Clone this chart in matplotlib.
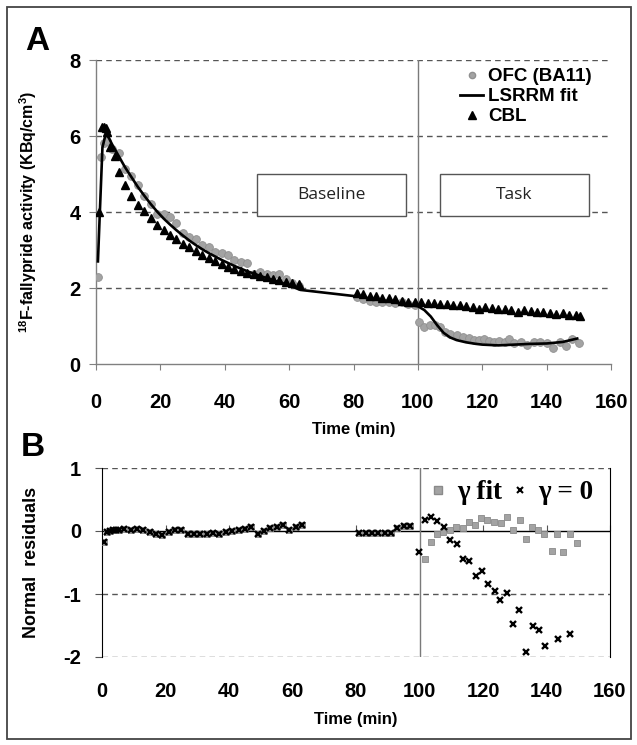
import matplotlib
matplotlib.use("Agg")
import matplotlib.pyplot as plt
from matplotlib.lines import Line2D
from matplotlib.patches import Rectangle

plt.rcParams['font.family'] = ['Liberation Sans', 'DejaVu Sans']
plt.rcParams['mathtext.fontset'] = 'custom'
plt.rcParams['mathtext.rm'] = 'Liberation Sans:bold'
plt.rcParams['mathtext.bf'] = 'Liberation Sans:bold'
plt.rcParams['mathtext.default'] = 'bf'
plt.rcParams['axes.unicode_minus'] = False

# ---------------- Panel A data ----------------
ofc_t = [0.5, 1.5, 2.5, 3.5, 5, 7, 9, 11, 13, 15, 17, 19, 21, 23, 25, 27, 29, 31, 33, 35,
         37, 39, 41, 43, 45, 47, 49, 51, 53, 55, 57, 59, 61, 63,
         81, 83, 85, 87, 89, 91, 93, 95, 97, 99,
         100.5, 102, 103.7, 105.3, 107, 108.5, 110, 112, 114, 116, 117.5, 119, 120.5, 122,
         123.7, 125.3, 127, 128.3, 130, 132, 134, 136, 138, 140, 142, 144, 146, 148, 150]
ofc_v = [2.3, 5.45, 5.82, 5.88, 5.67, 5.56, 5.13, 4.95, 4.72, 4.42, 4.21, 3.96, 3.95, 3.88,
         3.72, 3.45, 3.34, 3.28, 3.13, 3.09, 2.96, 2.92, 2.86, 2.74, 2.68, 2.65, 2.38, 2.42,
         2.38, 2.34, 2.36, 2.25, 2.12, 2.05,
         1.77, 1.70, 1.66, 1.64, 1.62, 1.63, 1.60, 1.62, 1.58, 1.56,
         1.11, 0.97, 1.03, 1.03, 0.97, 0.85, 0.79, 0.76, 0.70, 0.68, 0.63, 0.63, 0.65, 0.61,
         0.59, 0.61, 0.59, 0.65, 0.54, 0.59, 0.50, 0.59, 0.59, 0.54, 0.42, 0.57, 0.47, 0.65, 0.54]

cbl_t = [0.8, 2.0, 2.5, 3.0, 3.5, 4.5, 6, 7, 9, 11, 13, 15, 17, 19, 21, 23, 25, 27, 29, 31,
         33, 35, 37, 39, 41, 43, 45, 47, 49, 51, 53, 55, 57, 59, 61, 63,
         81, 83, 85, 87, 89, 91, 93, 95, 97, 99, 101, 103, 105, 107, 109, 111, 113, 115,
         117, 119, 121, 123, 125, 127, 129, 131, 133, 135, 137, 139, 141, 143, 145, 147, 149, 150.5]
cbl_v = [4.0, 6.25, 6.25, 6.2, 6.1, 5.72, 5.48, 5.05, 4.72, 4.42, 4.18, 4.03, 3.85, 3.65,
         3.52, 3.40, 3.28, 3.16, 3.07, 2.98, 2.88, 2.80, 2.70, 2.62, 2.54, 2.50, 2.45, 2.40,
         2.36, 2.31, 2.30, 2.24, 2.20, 2.16, 2.13, 2.11,
         1.86, 1.83, 1.80, 1.78, 1.75, 1.73, 1.70, 1.67, 1.64, 1.62,
         1.62, 1.60, 1.60, 1.58, 1.57, 1.56, 1.54, 1.52, 1.50, 1.45, 1.49, 1.48, 1.46, 1.45,
         1.43, 1.38, 1.42, 1.40, 1.37, 1.36, 1.35, 1.32, 1.33, 1.30, 1.28, 1.26]

fit_t = [0.6, 1.2, 2.0, 3.0, 4, 5, 7, 9, 11, 13, 15, 17, 19, 21, 23, 25, 27, 29, 31, 33, 35,
         37, 39, 41, 43, 45, 47, 49, 51, 53, 55, 57, 59, 61, 63.5, 81, 100, 102, 104, 106,
         108, 110, 112, 115, 118, 120, 125, 130, 135, 140, 145, 149.5]
fit_v = [2.7, 4.0, 5.7, 6.05, 5.95, 5.78, 5.48, 5.18, 4.92, 4.66, 4.43, 4.21, 4.01, 3.83,
         3.67, 3.52, 3.38, 3.25, 3.13, 3.02, 2.92, 2.83, 2.74, 2.66, 2.58, 2.51, 2.44, 2.38,
         2.32, 2.26, 2.21, 2.15, 2.10, 2.04, 1.95, 1.78, 1.52, 1.42, 1.25, 1.02,
         0.82, 0.70, 0.63, 0.57, 0.53, 0.51, 0.49, 0.51, 0.53, 0.54, 0.58, 0.67]

# ---------------- Panel B data ----------------
res_base_t = [0.5, 1.5, 2.5, 3.5, 4.5, 5.5, 7, 9, 11, 13, 15, 17, 19, 21, 23, 25, 27, 29, 31,
              33, 35, 37, 39, 41, 43, 45, 47, 49, 51, 53, 55, 57, 59, 61, 63,
              81, 83, 85, 87, 89, 91, 93, 95, 97]
res_base_v = [-0.17, -0.02, 0.0, 0.01, 0.02, 0.01, 0.03, 0.02, 0.03, 0.02, -0.02, -0.05,
              -0.07, -0.02, 0.02, 0.02, -0.04, -0.05, -0.04, -0.05, -0.03, -0.05, -0.01,
              0.0, 0.01, 0.03, 0.06, -0.05, 0.0, 0.04, 0.06, 0.09, 0.02, 0.07, 0.09,
              -0.03, -0.03, -0.03, -0.03, -0.03, -0.03, 0.04, 0.08, 0.08]

gfit_t = [101.7, 103.6, 105.6, 107.5, 109.6, 111.5, 113.6, 115.6, 117.6, 119.4, 121.4,
          123.5, 125.6, 127.5, 129.6, 131.5, 133.4, 135.5, 137.4, 139.2, 141.6, 143.4,
          145.3, 147.4, 149.7]
gfit_v = [-0.45, -0.17, -0.04, -0.02, 0.01, 0.07, 0.04, 0.14, 0.09, 0.21, 0.17, 0.15,
          0.12, 0.22, 0.02, 0.17, -0.12, 0.07, 0.02, -0.05, -0.31, -0.05, -0.34, -0.05, -0.19]

g0_t = [99.8, 101.7, 103.6, 105.6, 107.7, 109.6, 111.7, 113.6, 115.6, 117.8, 119.6, 121.7,
        123.8, 125.4, 127.7, 129.5, 131.3, 133.4, 135.7, 137.7, 139.6, 143.6, 147.5]
g0_v = [-0.33, 0.18, 0.22, 0.16, 0.06, -0.14, -0.21, -0.44, -0.47, -0.72, -0.63, -0.84,
        -0.96, -1.10, -0.99, -1.48, -1.25, -1.92, -1.51, -1.57, -1.83, -1.72, -1.63]

xticks = [0, 20, 40, 60, 80, 100, 120, 140, 160]
a_yticks = [0, 2, 4, 6, 8]
b_yticks = [-2, -1, 0, 1]

W, H = 637, 745
fig = plt.figure(figsize=(W / 100, H / 100), dpi=100)

def fx(px):
    return px / W

def fy(py):
    return 1 - py / H

grid_kw = dict(color='#555555', lw=1.0, ls=(0, (4, 3)), zorder=1)
grey = '#a3a3a3'

# ---------------- Panel A ----------------
axA = fig.add_axes([fx(96), fy(364), fx(611) - fx(96), fy(60) - fy(364)])
axA.set_xlim(0, 160)
axA.set_ylim(0, 8)
for yv in a_yticks[1:]:
    axA.axhline(yv, **grid_kw)
axA.axvline(100, color='#7a7a7a', lw=1.0, zorder=1.5)

axA.plot(ofc_t, ofc_v, ls='none', marker='o', ms=5.6, mfc=grey, mec='#909090',
         mew=0.6, zorder=3)
axA.plot(fit_t, fit_v, color='black', lw=1.9, zorder=4)
axA.plot(cbl_t, cbl_v, ls='none', marker='^', ms=6.3, color='black', zorder=5)

for s in ['top', 'right']:
    axA.spines[s].set_visible(False)
for s in ['left', 'bottom']:
    axA.spines[s].set_color('#808080')
    axA.spines[s].set_linewidth(1.0)
axA.set_xticks(xticks)
axA.set_yticks(a_yticks)
axA.tick_params(axis='x', length=4, color='#808080', pad=17, labelsize=14.5)
axA.tick_params(axis='y', length=5, color='#808080', pad=6, labelsize=14.5)
for lab in axA.get_xticklabels() + axA.get_yticklabels():
    lab.set_fontweight('bold')

# Baseline / Task boxes
for (x0, x1, txt) in [(49.9, 96.4, 'Baseline'), (106.8, 153.3, 'Task')]:
    axA.add_patch(Rectangle((x0, 3.89), x1 - x0, 1.10, facecolor='white',
                            edgecolor='#555555', lw=1.0, zorder=6))
    axA.text((x0 + x1) / 2, 4.44, txt, ha='center', va='center', fontsize=12.5,
             family=['Open Sans', 'DejaVu Sans'], color='#222222', zorder=7)

handlesA = [Line2D([], [], ls='none', marker='o', ms=4.5, mfc=grey, mec='#909090'),
            Line2D([], [], color='black', lw=2),
            Line2D([], [], ls='none', marker='^', ms=5.5, color='black')]
legA = axA.legend(handlesA, ['OFC (BA11)', 'LSRRM fit', 'CBL'], loc='upper right',
                  bbox_to_anchor=(0.985, 1.01), frameon=False, handlelength=1.2,
                  handletextpad=0.3, labelspacing=0.15, borderpad=0.1,
                  prop=dict(weight='bold', size=13.5))
legA.set_zorder(8)

axA.set_xlabel('Time (min)', fontsize=12, fontweight='bold', labelpad=7)

fig.text(fx(28), fy(212), r'$^{18}$F-fallypride activity (KBq/cm$^{3}$)', rotation=90,
         ha='center', va='center', fontsize=11.5, fontweight='bold')
fig.text(fx(37), fy(42), 'A', fontsize=24, fontweight='bold', ha='center', va='center')

# ---------------- Panel B ----------------
axB = fig.add_axes([fx(102), fy(657), fx(610) - fx(102), fy(468) - fy(657)])
axB.set_xlim(0, 160)
axB.set_ylim(-2, 1)
for yv in [-2, -1, 1]:
    axB.axhline(yv, **grid_kw)
axB.axhline(0, color='black', lw=1.0, zorder=1.5)
axB.axvline(100, color='#7a7a7a', lw=1.0, zorder=1.5)

axB.plot(res_base_t, res_base_v, ls='none', marker='s', ms=4.8, mfc=grey, mec='#8a8a8a',
         mew=0.6, zorder=3)
axB.plot(gfit_t, gfit_v, ls='none', marker='s', ms=5.0, mfc=grey, mec='#8a8a8a',
         mew=0.6, zorder=3)
axB.plot(res_base_t, res_base_v, ls='none', marker='x', ms=4.6, mew=1.7, color='black',
         zorder=4)
axB.plot(g0_t, g0_v, ls='none', marker='x', ms=4.8, mew=1.7, color='black', zorder=4)

axB.spines['top'].set_visible(False)
axB.spines['bottom'].set_visible(False)
axB.spines['left'].set_color('black')
axB.spines['right'].set_color('black')
axB.set_xticks(xticks)
axB.set_yticks(b_yticks)
axB.tick_params(axis='x', length=0, pad=18, labelsize=14.5)
axB.tick_params(axis='y', length=5, color='#555555', pad=10, labelsize=14.5)
for lab in axB.get_xticklabels() + axB.get_yticklabels():
    lab.set_fontweight('bold')
sec = axB.secondary_xaxis(2 / 3)
sec.set_xticks(xticks)
sec.tick_params(axis='x', direction='out', length=4, color='#555555', labelbottom=False,
                labeltop=False)
sec.spines['bottom'].set_visible(False)
sec.spines['top'].set_visible(False)

handlesB = [Line2D([], [], ls='none', marker='s', ms=5.5, mfc=grey, mec='#8a8a8a'),
            Line2D([], [], ls='none', marker='x', ms=4, mew=1.5, color='black')]
legB = axB.legend(handlesB, ['γ fit', 'γ = 0'], loc='upper right',
                  bbox_to_anchor=(1.0, 1.02), frameon=False, ncol=2, handlelength=0.5,
                  handletextpad=0.45, columnspacing=0.4, borderpad=0.1,
                  prop=dict(family=['Liberation Serif', 'DejaVu Serif'], weight='bold',
                            size=19.5))
legB.set_zorder(8)

axB.set_xlabel('Time (min)', fontsize=12, fontweight='bold', labelpad=8)
fig.text(fx(32), fy(562), 'Normal  residuals', rotation=90, ha='center', va='center',
         fontsize=13, fontweight='bold')
fig.text(fx(33), fy(448), 'B', fontsize=24, fontweight='bold', ha='center', va='center')

# figure frame
fig.patches.append(Rectangle((fx(7), fy(739)), fx(631) - fx(7), fy(7) - fy(739),
                             transform=fig.transFigure, fill=False, edgecolor='#444444',
                             lw=1.3))

fig.savefig('out.png', dpi=100)
